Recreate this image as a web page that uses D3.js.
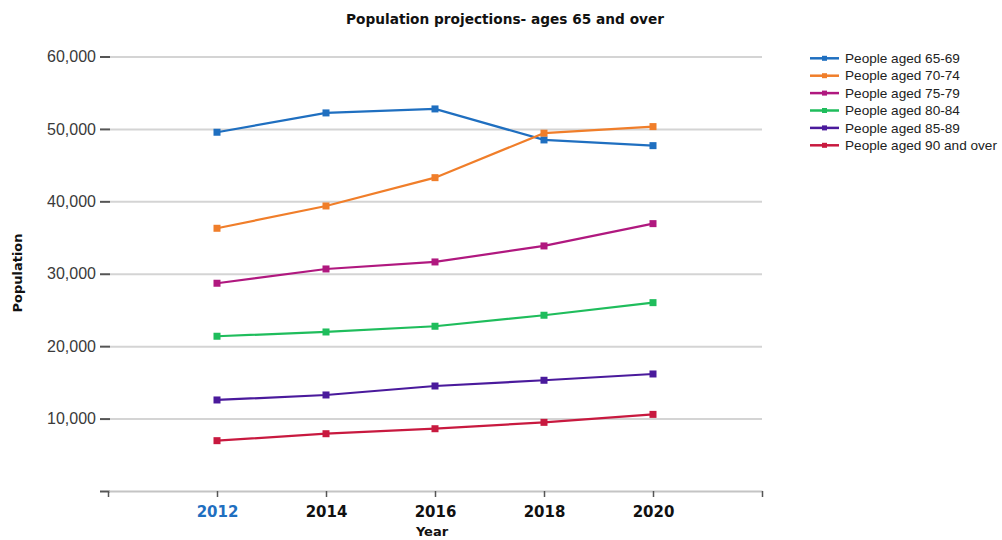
<!DOCTYPE html>
<html>
<head>
<meta charset="utf-8">
<script src="https://cdn.jsdelivr.net/npm/d3@7"></script>
<style>
  body { margin: 0; background: #fff; }
  .grid line { stroke: #d4d4d4; stroke-width: 2; }
  .grid path { display: none; }
  .yaxis path { display: none; }
  .yaxis line { stroke: #555; stroke-width: 2; }
  .yaxis text { font-family: "Liberation Sans", Arial, sans-serif; font-size: 16px; fill: #3a3a3a; }
  .xaxis path { stroke: #c4c4c4; stroke-width: 2; }
  .xaxis line { stroke: #555; stroke-width: 1.5; }
  .xaxis text { font-family: "DejaVu Sans", sans-serif; font-weight: bold; font-size: 15px; }
  .heading { font-family: "DejaVu Sans", sans-serif; font-weight: bold; font-size: 13.7px; fill: #111; }
  .label { font-family: "DejaVu Sans", sans-serif; font-weight: bold; font-size: 13px; fill: #111; }
  .legend text { font-family: "Liberation Sans", Arial, sans-serif; font-size: 13.6px; fill: #222; }
</style>
</head>
<body>
<script>
var years = [2012, 2014, 2016, 2018, 2020];
var seriesNames = ["People aged 65-69", "People aged 70-74", "People aged 75-79",
  "People aged 80-84", "People aged 85-89", "People aged 90 and over"];
var colors = ["#1f6fc0", "#f07e2a", "#b0187f", "#1fbd5c", "#4a1a9c", "#c8193f"];

var aged65 = [49540, 52210, 52760, 48480, 47690];
var aged70 = [36280, 39360, 43270, 49410, 50320];
var aged75 = [28690, 30660, 31630, 33840, 36920];
var aged80 = [21370, 21960, 22750, 24270, 26010];
var aged85 = [12570, 13260, 14500, 15290, 16160];
var aged90 = [6950, 7910, 8600, 9480, 10580];

var yTicks = [0, 10000, 20000, 30000, 40000, 50000, 60000];
var xTicks = [2010, 2012, 2014, 2016, 2018, 2020, 2022];

var allValues = [aged65, aged70, aged75, aged80, aged85, aged90];
var series = seriesNames.map(function (name, i) {
  return {
    name: name,
    color: colors[i],
    values: years.map(function (yr, j) { return { year: yr, value: allValues[i][j] }; })
  };
});

var svg = d3.select('body').append('svg')
  .attr('width', 1002)
  .attr('height', 540);

var x = d3.scaleLinear().domain([2010, 2022]).range([108, 762]);
var y = d3.scaleLinear().domain([0, 60000]).range([491, 56.5]);

// gridlines
svg.append('g')
  .attr('class', 'grid')
  .attr('transform', 'translate(110,0)')
  .call(d3.axisLeft(y).tickValues(yTicks.slice(1)).tickSize(-652).tickFormat(''));

// y axis ticks + labels
svg.append('g')
  .attr('class', 'yaxis')
  .attr('transform', 'translate(110,0)')
  .call(d3.axisLeft(y).tickValues(yTicks).tickSize(10).tickPadding(4)
    .tickFormat(function (d) { return d === 0 ? '' : d3.format(',')(d); }));

// x axis
var xa = svg.append('g')
  .attr('class', 'xaxis')
  .attr('transform', 'translate(0,491)')
  .call(d3.axisBottom(x).tickValues(xTicks).tickSize(6).tickSizeOuter(0).tickPadding(9)
    .tickFormat(function (d) { return (d === 2010 || d === 2022) ? '' : d; }));
xa.selectAll('.tick text').style('fill', function (d) { return d === 2012 ? '#1f6fc0' : '#111'; });

svg.append('text')
  .attr('class', 'heading')
  .attr('x', 505).attr('y', 24)
  .style('text-anchor', 'middle')
  .text('Population projections- ages 65 and over');

svg.append('text')
  .attr('class', 'label')
  .attr('x', 432).attr('y', 536)
  .style('text-anchor', 'middle')
  .text('Year');

svg.append('text')
  .attr('class', 'label')
  .attr('transform', 'translate(22,273) rotate(-90)')
  .style('text-anchor', 'middle')
  .text('Population');

var line = d3.line()
  .x(function (d) { return x(d.year); })
  .y(function (d) { return y(d.value); });

var sg = svg.selectAll('.series')
  .data(series)
  .enter().append('g')
  .attr('class', 'series');

sg.append('path')
  .attr('d', function (d) { return line(d.values); })
  .attr('fill', 'none')
  .attr('stroke', function (d) { return d.color; })
  .attr('stroke-width', 2.2);

sg.selectAll('rect')
  .data(function (d) { return d.values.map(function (v) { return { v: v, color: d.color }; }); })
  .enter().append('rect')
  .attr('x', function (d) { return x(d.v.year) - 3.5; })
  .attr('y', function (d) { return y(d.v.value) - 3.5; })
  .attr('width', 7).attr('height', 7)
  .attr('fill', function (d) { return d.color; });

// legend
var lg = svg.append('g').attr('class', 'legend')
  .selectAll('g')
  .data(series)
  .enter().append('g')
  .attr('transform', function (d, i) { return 'translate(810,' + (58.3 + i * 17.4) + ')'; });

lg.append('line')
  .attr('x1', 0).attr('x2', 29)
  .attr('stroke', function (d) { return d.color; })
  .attr('stroke-width', 2.5);
lg.append('rect')
  .attr('x', 12).attr('y', -2.5).attr('width', 5).attr('height', 5)
  .attr('fill', function (d) { return d.color; });
lg.append('text')
  .attr('x', 35).attr('dy', '0.35em')
  .text(function (d) { return d.name; });
</script>
</body>
</html>
